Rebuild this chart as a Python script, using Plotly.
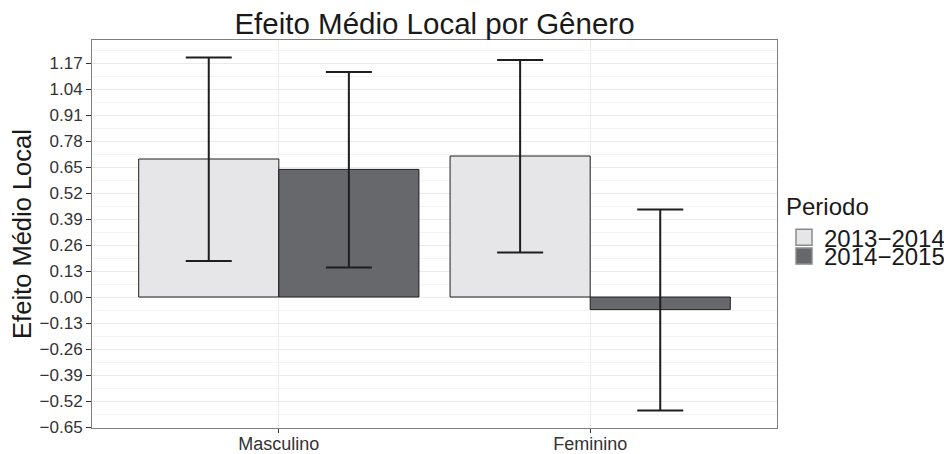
import plotly.graph_objects as go

# Local average effect by gender, two periods, with confidence bounds
generos = ["Masculino", "Feminino"]
periodos = ["2013\u22122014", "2014\u22122015"]

efeito_2013 = [0.690, 0.705]
efeito_2014 = [0.638, -0.063]
inferior_2013 = [0.180, 0.223]
superior_2013 = [1.197, 1.185]
inferior_2014 = [0.148, -0.567]
superior_2014 = [1.125, 0.438]

y_ticks = [-0.65, -0.52, -0.39, -0.26, -0.13, 0.00, 0.13, 0.26, 0.39, 0.52, 0.65, 0.78, 0.91, 1.04, 1.17]
y_ticktext = ["\u22120.65", "\u22120.52", "\u22120.39", "\u22120.26", "\u22120.13", "0.00", "0.13",
              "0.26", "0.39", "0.52", "0.65", "0.78", "0.91", "1.04", "1.17"]

cores = ["#E6E6E8", "#67686C"]
FONT = "Liberation Sans, Arial, Helvetica, sans-serif"

W, H = 944, 454
L, R, T, B = 92, 167, 40, 26
PW, PH = W - L - R, H - T - B


def px_x(px):
    """Horizontal pixel -> fraction of the plot area."""
    return (px - L) / PW


def px_y(py):
    """Vertical pixel (from top) -> fraction of the plot area."""
    return (H - B - py) / PH


series = [
    (efeito_2013, inferior_2013, superior_2013),
    (efeito_2014, inferior_2014, superior_2014),
]

fig = go.Figure()
for i, (vals, lo, hi) in enumerate(series):
    fig.add_trace(go.Bar(
        x=generos, y=vals, name=periodos[i],
        marker=dict(color=cores[i], line=dict(color="#1E1E1E", width=1)),
        error_y=dict(type="data", symmetric=False,
                     array=[h - v for h, v in zip(hi, vals)],
                     arrayminus=[v - l for v, l in zip(vals, lo)],
                     color="#1E1E1E", thickness=2, width=23),
        showlegend=False,
    ))

# legend entries (one legend box per entry for tight spacing)
legend_ids = ["legend", "legend2"]
for i, nome in enumerate(periodos):
    fig.add_trace(go.Scatter(
        x=[None], y=[None], mode="markers", name=nome,
        marker=dict(symbol="square", size=16, color=cores[i],
                    line=dict(color="#8A8A8A", width=1.5)),
        legend=legend_ids[i], showlegend=True,
    ))

fig.update_layout(
    width=W, height=H,
    margin=dict(l=L, r=R, t=T, b=B, autoexpand=False),
    paper_bgcolor="white", plot_bgcolor="white",
    barmode="group", bargap=0.1, bargroupgap=0,
    font=dict(family=FONT, color="#1A1A1A"),
    title=dict(text="Efeito Médio Local por Gênero", x=(L + PW / 2) / W, xanchor="center",
               y=1 - 24 / H, yanchor="middle",
               font=dict(size=29.5, color="#1A1A1A")),
    legend=dict(x=px_x(784), xanchor="left", y=px_y(184), yanchor="top",
                title=dict(text="Periodo", font=dict(size=24, color="#1A1A1A")),
                font=dict(size=24, color="#1A1A1A"), itemsizing="trace",
                bgcolor="rgba(0,0,0,0)", tracegroupgap=0),
    legend2=dict(x=px_x(784), xanchor="left", y=px_y(234), yanchor="top",
                 font=dict(size=24, color="#1A1A1A"), itemsizing="trace",
                 bgcolor="rgba(0,0,0,0)"),
    xaxis=dict(
        type="category", range=[-0.6, 1.6], automargin=False,
        showgrid=True, gridcolor="#EBEBEB", gridwidth=1,
        ticks="outside", ticklen=4, tickcolor="#333333", tickwidth=1,
        ticklabelstandoff=-5,
        tickfont=dict(size=18, color="#333333"),
        showline=True, linecolor="#7F7F7F", linewidth=1, mirror=True,
        zeroline=False,
    ),
    yaxis=dict(
        range=[-0.655, 1.285], automargin=False,
        tickmode="array", tickvals=y_ticks, ticktext=y_ticktext,
        showgrid=True, gridcolor="#EBEBEB", gridwidth=1,
        minor=dict(tickmode="linear", tick0=-0.585, dtick=0.13, showgrid=True,
                   gridcolor="#F4F4F4", gridwidth=1, ticks=""),
        ticks="outside", ticklen=5, tickcolor="#333333", tickwidth=1,
        tickfont=dict(size=17, color="#333333"),
        showline=True, linecolor="#7F7F7F", linewidth=1, mirror=True,
        zeroline=False,
        title=dict(text="Efeito Médio Local", font=dict(size=25.5, color="#1A1A1A"), standoff=0),
    ),
)

fig.write_html("out.html")
